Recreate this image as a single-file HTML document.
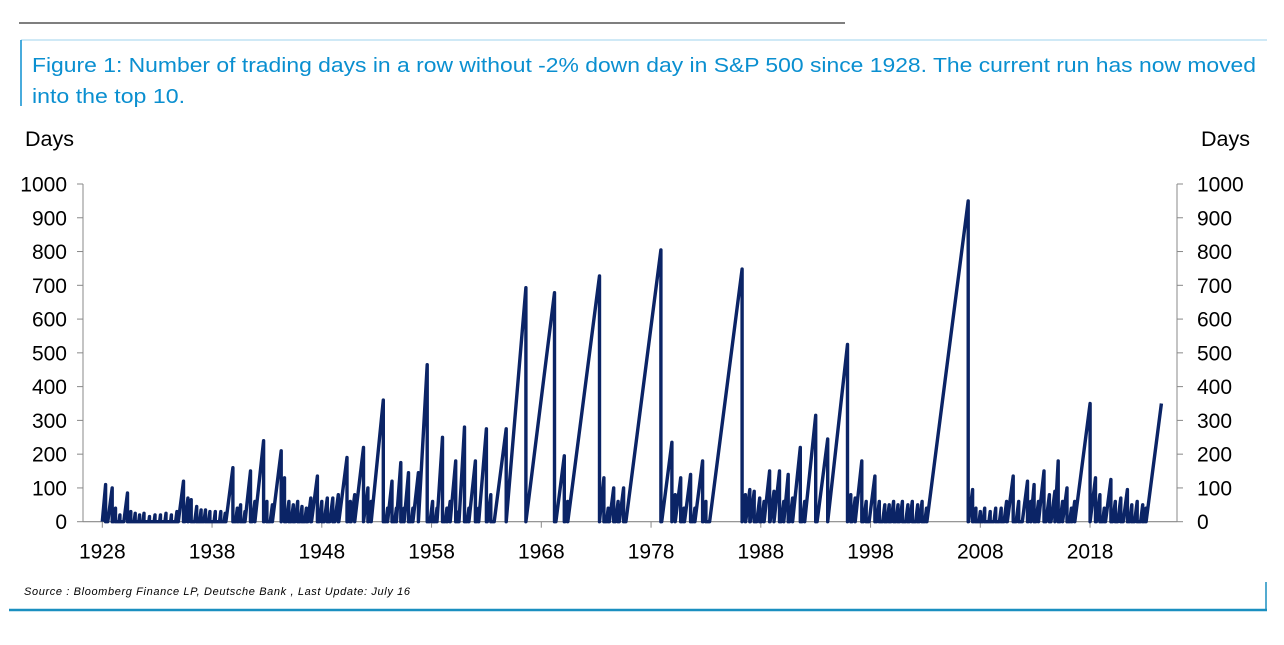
<!DOCTYPE html>
<html><head><meta charset="utf-8"><style>
body{margin:0;width:1284px;height:640px;background:#fff;overflow:hidden;font-family:"Liberation Sans",Arial,sans-serif}
</style></head><body>
<svg width="1284" height="640" xmlns="http://www.w3.org/2000/svg">
<line x1="19" y1="23" x2="845" y2="23" stroke="#555" stroke-width="1.5"/>
<line x1="21" y1="40" x2="1267" y2="40" stroke="#9fd3ee" stroke-width="1"/>
<line x1="21" y1="40" x2="21" y2="106" stroke="#0a8fd0" stroke-width="1.5"/>
<text x="32" y="72" font-size="20.5" fill="#0a8fd0" textLength="1224" lengthAdjust="spacingAndGlyphs">Figure 1: Number of trading days in a row without -2% down day in S&amp;P 500 since 1928. The current run has now moved</text>
<text x="32" y="103" font-size="20.5" fill="#0a8fd0" textLength="153" lengthAdjust="spacingAndGlyphs">into the top 10.</text>
<text x="25" y="146" font-size="21.5" fill="#000">Days</text>
<text x="1250" y="146" font-size="21.5" fill="#000" text-anchor="end">Days</text>
<g id="axes"></g>
<path id="series" fill="none" stroke="#0b2466" stroke-width="3.4" stroke-linejoin="round"/>
<text x="24" y="595" font-size="11" font-style="italic" fill="#000" textLength="386">Source : Bloomberg Finance LP, Deutsche Bank , Last Update: July 16</text>
<line x1="9" y1="610" x2="1267" y2="610" stroke="#1a8fc0" stroke-width="2.5"/>
<line x1="1266" y1="582" x2="1266" y2="611" stroke="#1a8fc0" stroke-width="1.5"/>
</svg>
<script>
const yTicks=[0,100,200,300,400,500,600,700,800,900,1000];
const xTicks=[1928,1938,1948,1958,1968,1978,1988,1998,2008,2018];
// run end (fractional year) and peak length in trading days
const runEnds=[1928.3,1928.9,1929.2,1929.6,1930.3,1930.6,1931.0,1931.4,1931.8,1932.3,1932.8,1933.3,1933.8,1934.3,1934.8,1935.4,1935.8,1936.1,1936.6,1937.0,1937.4,1937.8,1938.3,1938.8,1939.2,1939.9,1940.3,1940.6,1941.0,1941.5,1941.9,1942.7,1943.0,1943.5,1944.3,1944.6,1945.0,1945.4,1945.8,1946.2,1946.6,1947.0,1947.6,1948.0,1948.5,1949.0,1949.5,1950.3,1950.6,1951.0,1951.8,1952.2,1952.5,1953.6,1954.0,1954.4,1954.8,1955.2,1955.5,1955.9,1956.3,1956.8,1957.6,1958.1,1958.5,1959.0,1959.4,1959.7,1960.2,1960.5,1961.0,1961.4,1962.0,1962.3,1963.0,1963.4,1964.8,1966.6,1969.2,1970.1,1970.4,1973.3,1973.7,1974.1,1974.6,1975.0,1975.5,1978.9,1979.9,1980.2,1980.7,1981.0,1981.6,1982.0,1982.7,1983.0,1986.3,1986.6,1987.0,1987.4,1987.9,1988.3,1988.8,1989.2,1989.7,1990.1,1990.5,1990.9,1991.6,1992.0,1993.0,1994.1,1995.9,1996.2,1996.6,1997.2,1997.6,1998.4,1998.8,1999.3,1999.7,2000.1,2000.5,2000.9,2001.4,2001.8,2002.3,2002.7,2003.1,2006.9,2007.3,2007.6,2008.0,2008.4,2008.9,2009.4,2009.9,2010.4,2011.0,2011.5,2012.3,2012.6,2012.9,2013.3,2013.8,2014.3,2014.8,2015.1,2015.5,2015.9,2016.3,2016.6,2018.0,2018.5,2018.9,2019.3,2019.9,2020.3,2020.8,2021.4,2021.8,2022.3,2022.8,2023.1,2024.5];
const runPeaks=[110,100,40,20,85,30,25,20,25,15,20,20,25,20,30,120,70,65,45,35,35,30,30,30,25,160,40,50,30,150,60,240,60,50,210,130,60,50,60,45,40,70,135,60,70,70,80,190,60,80,220,100,60,360,40,120,40,175,40,145,40,145,465,60,40,250,40,60,180,30,280,40,180,40,275,80,275,693,678,195,60,728,130,40,100,60,100,805,235,80,130,40,140,40,180,60,748,80,95,90,70,60,150,90,150,60,140,70,220,60,315,245,525,80,70,180,60,135,60,50,50,60,50,60,50,60,50,60,40,950,95,40,30,40,30,40,40,60,135,60,120,60,110,60,150,80,90,180,60,100,40,60,350,130,80,40,125,60,70,95,50,60,50,40,350];
const X0=83,X1=1177,Y0=521.7,Y1=184;
const yr0=1928-(102.3-83)/10.975, yr1=1928+(1177-102.3)/10.975;
const xs=v=>X0+(v-yr0)/(yr1-yr0)*(X1-X0);
const ys=v=>Y0-(v/1000)*(Y0-Y1);
const ns='http://www.w3.org/2000/svg';
const ax=document.getElementById('axes');
function mk(tag,at,txt){const e=document.createElementNS(ns,tag);for(const k in at)e.setAttribute(k,at[k]);if(txt!==undefined)e.textContent=txt;ax.appendChild(e);return e;}
let e=mk('line',{x1:X0,y1:Y1,x2:X0,y2:Y0,stroke:'#888','stroke-width':1});


e=mk('line',{x1:X1,y1:Y1,x2:X1,y2:Y0,stroke:'#888','stroke-width':1});


e=mk('line',{x1:X0,y1:Y0,x2:X1,y2:Y0,stroke:'#888','stroke-width':1.2});


yTicks.forEach(t=>{
 const y=ys(t);
 let a=mk('line',{x1:X0-6,y1:y,x2:X0,y2:y,stroke:'#888'});
 
 
 a=mk('line',{x1:X1,y1:y,x2:X1+6,y2:y,stroke:'#888'});
 
 
 a=mk('text',{x:67,y:y+7.5,'font-size':21,'text-anchor':'end'},t);
 
 
 a=mk('text',{x:1197,y:y+7.5,'font-size':21},t);
 
 
});
xTicks.forEach(t=>{
 const x=xs(t);
 let a=mk('line',{x1:x,y1:Y0,x2:x,y2:Y0+6,stroke:'#888'});
 
 
 a=mk('text',{x:x,y:Y0+37,'font-size':21,'text-anchor':'middle'},t);
 
 
});
let d='M'+xs(1928)+','+ys(0);let prev=1928;
runEnds.forEach((end,i)=>{
 const pk=runPeaks[i];
 const st=Math.max(prev,end-pk/252);
 d+=' L'+xs(st).toFixed(1)+','+ys(0).toFixed(1)+' L'+xs(end).toFixed(1)+','+ys(pk).toFixed(1);
 if(i<runEnds.length-1)d+=' L'+xs(end).toFixed(1)+','+ys(0).toFixed(1);
 prev=end;
});
document.getElementById('series').setAttribute('d',d);
</script>
</body></html>
